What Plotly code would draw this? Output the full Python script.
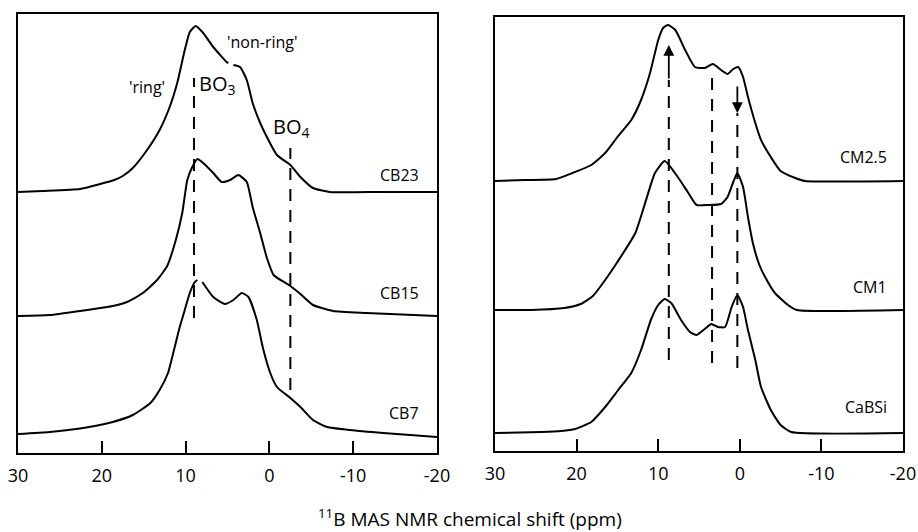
import plotly.graph_objects as go

# ---------------- data (ppm, intensity above each baseline) ----------------
cb23_x = [30, 27.0, 22.6, 20.2, 18.5, 17.5, 16.3, 14.6, 13.1, 11.9, 11.0, 10.1, 9.5, 8.8, 7.9, 6.7, 5.1, 4.9,
          None, 4.3, 3.5, 2.7, 2.0, 1.1, 0.3, -0.9, -2.5, -3.7, -5.2, -7.2, -13.2, -20]
cb23_y = [0, 1, 3, 8, 12, 16, 24, 42, 62, 85, 109, 142, 160, 166, 159, 145, 130, 129,
          None, 127, 125, 112, 89, 69, 55, 37, 27, 15, 4, 0, 0, 0]

cb15_x = [30, 26.2, 21.0, 18.7, 17.0, 15.1, 13.4, 12.2, 11.2, 10.4, 9.8, 9.2, 8.6, 7.9, 6.7, 5.7, 4.7, 3.7,
          2.7, 2.0, 1.1, 0.3, -0.5, -2.5, -3.7, -5.2, -7.6, -11.6, -20]
cb15_y = [0, 1, 7, 10, 14, 23, 36, 50, 75, 103, 136, 149, 157, 153, 143, 134, 136, 141,
          134, 109, 83, 58, 41, 30, 22, 11, 5, 3, 0]

cb7_x = [30, 26.2, 22.2, 18.7, 16.3, 14.2, 13.1, 12.1, 11.3, 10.7, 10.1, 9.5, 8.9, 8.6, None,
         8.0, 6.7, 5.3, 4.3, 3.3, 2.5, 1.5, 0.8, -0.1, -0.9, -2.5, -3.7, -5.2, -6.9, -9.6, -13.6, -20]
cb7_y = [3, 5, 9, 15, 22, 34, 47, 64, 90, 110, 127, 144, 155, 157, None,
         155, 140, 133, 137, 144, 140, 117, 90, 64, 50, 39, 30, 17, 10, 7, 4, 0]

cm25_x = [30, 26.3, 22.5, 20.5, 18.2, 16.5, 15.0, 13.3, 12.1, 11.0, 10.0, 9.4, 8.8, 7.9, 6.7, 5.5, 4.3,
          3.3, 2.3, 1.5, 0.8, 0.2, -0.4, -1.0, -1.9, -2.6, -3.8, -5.0, -6.8, -8.0, -20]
cm25_y = [0, 1, 2, 8, 16, 28, 44, 61, 81, 108, 141, 153, 156, 151, 131, 114, 113,
          117, 111, 107, 112, 114, 104, 84, 58, 41, 24, 10, 3, 0, 0]

cm1_x = [30, 25.6, 21.5, 19.5, 18.0, 16.5, 15.0, 12.8, 11.6, 10.4, 9.2, 7.6, 6.3, 5.3, 3.9, 2.3, 1.5, 0.8,
         0.3, -0.4, -1.0, -1.6, -2.4, -3.1, -4.3, -5.9, -7.0, -20]
cm1_y = [0, 0, 2, 6, 14, 30, 48, 77, 107, 137, 149, 133, 117, 105, 105, 106, 113, 128,
         137, 123, 93, 67, 45, 33, 17, 5, 0, 0]

cabsi_x = [30, 24.3, 21.9, 20.2, 18.2, 16.5, 14.9, 13.3, 12.1, 10.9, 10.0, 9.2, 8.4, 7.2, 6.1, 5.3, 4.3,
           3.5, 2.7, 1.8, 1.0, 0.3, -0.4, -1.0, -1.9, -2.6, -3.8, -5.0, -6.3, -20]
cabsi_y = [0, 1, 2, 4, 11, 26, 43, 60, 83, 113, 128, 134, 130, 113, 101, 98, 104,
           109, 106, 106, 126, 138, 126, 103, 73, 46, 23, 8, 1, 0]

left_names = ["CB23", "CB15", "CB7"]
right_names = ["CM2.5", "CM1", "CaBSi"]
tick_vals = [30, 20, 10, 0, -10, -20]
tick_text = ["30", "20", "10", "0", "-10", "-20"]
left_marks = [9.0, -2.5]          # BO3 / BO4 positions (ppm)
right_marks = [8.7, 3.4, 0.3]     # peak positions (ppm)

# ---------------- layout constants (page pixels) ----------------
W, H = 918, 532
left_off = [261, 137, 16]
right_off = [270, 141, 18]
FONT = "Open Sans"


def px(p):
    return p / W


def py(p):
    return 1 - p / H


fig = go.Figure()


def add(xs, ys, off, xa, ya):
    fig.add_trace(go.Scatter(
        x=xs, y=[None if v is None else v + off for v in ys],
        mode="lines", line=dict(color="black", width=2, shape="spline", smoothing=0.5),
        connectgaps=False, xaxis=xa, yaxis=ya, showlegend=False, hoverinfo="skip"))


for xs, ys, off in zip([cb23_x, cb15_x, cb7_x], [cb23_y, cb15_y, cb7_y], left_off):
    add(xs, ys, off, "x", "y")
for xs, ys, off in zip([cm25_x, cm1_x, cabsi_x], [cm25_y, cm1_y, cabsi_y], right_off):
    add(xs, ys, off, "x2", "y2")

axis_common = dict(showline=True, linecolor="black", linewidth=1.5, mirror=True,
                   showgrid=False, zeroline=False, automargin=False)
xcommon = dict(axis_common, range=[30, -20], tickvals=tick_vals, ticktext=tick_text,
               ticks="inside", ticklen=12, tickwidth=1.5, tickcolor="black",
               ticklabelstandoff=6, ticklabeloverflow="allow",
               tickfont=dict(family=FONT, size=18, color="black"))
ycommon = dict(axis_common, showticklabels=False, ticks="")

fig.update_layout(
    width=W, height=H, margin=dict(l=0, r=0, t=0, b=0, autoexpand=False),
    paper_bgcolor="white", plot_bgcolor="white",
    xaxis=dict(xcommon, domain=[px(18), px(437)], anchor="y"),
    yaxis=dict(ycommon, domain=[py(453), py(14)], range=[0, 439], anchor="x"),
    xaxis2=dict(xcommon, domain=[px(495), px(903)], anchor="y2"),
    yaxis2=dict(ycommon, domain=[py(451), py(17)], range=[0, 434], anchor="x2"),
)

dash = "12px,9px"
fig.add_shape(type="line", xref="x", yref="y", x0=left_marks[0], x1=left_marks[0], y0=135, y1=375,
              line=dict(color="black", width=2, dash=dash))
fig.add_shape(type="line", xref="x", yref="y", x0=left_marks[1], x1=left_marks[1], y0=63, y1=305,
              line=dict(color="black", width=2, dash=dash))
fig.add_shape(type="line", xref="x2", yref="y2", x0=right_marks[0], x1=right_marks[0], y0=91, y1=371,
              line=dict(color="black", width=2, dash=dash))
fig.add_shape(type="line", xref="x2", yref="y2", x0=right_marks[1], x1=right_marks[1], y0=88, y1=374,
              line=dict(color="black", width=2, dash=dash))
fig.add_shape(type="line", xref="x2", yref="y2", x0=right_marks[2], x1=right_marks[2], y0=83, y1=338,
              line=dict(color="black", width=2, dash=dash))

fig.add_annotation(xref="x2", yref="y2", axref="x2", ayref="y2",
                   x=right_marks[0], y=406, ax=right_marks[0], ay=371, text="",
                   showarrow=True, arrowhead=2, arrowsize=1.2, arrowwidth=1.8, arrowcolor="black")
fig.add_annotation(xref="x2", yref="y2", axref="x2", ayref="y2",
                   x=right_marks[2], y=338, ax=right_marks[2], ay=366, text="",
                   showarrow=True, arrowhead=2, arrowsize=1.2, arrowwidth=1.8, arrowcolor="black")


def txt(x, y, s, xref, yref, size, xanchor="center"):
    fig.add_annotation(x=x, y=y, xref=xref, yref=yref, text=s, showarrow=False,
                       xanchor=xanchor, yanchor="middle",
                       font=dict(family=FONT, size=size, color="black"))


txt(14.6, 366, "'ring'", "x", "y", 16)
txt(0.8, 411, "'non-ring'", "x", "y", 16)
txt(6.2, 368, "BO<sub>3</sub>", "x", "y", 20)
txt(-2.6, 325, "BO<sub>4</sub>", "x", "y", 20)
for name, yy in zip(left_names, [278, 160, 40]):
    txt(-18.1, yy, name, "x", "y", 16, "right")
for name, yy in zip(right_names, [294, 164, 44]):
    txt(-18.3, yy, name, "x2", "y2", 16, "right")

fig.add_annotation(x=px(470), y=py(518), xref="paper", yref="paper",
                   text="<sup>11</sup>B MAS NMR chemical shift (ppm)", showarrow=False,
                   xanchor="center", yanchor="middle",
                   font=dict(family=FONT, size=19, color="black"))

fig.write_html("out.html", config={"displayModeBar": False},
               post_script="document.body.style.margin='0';")
